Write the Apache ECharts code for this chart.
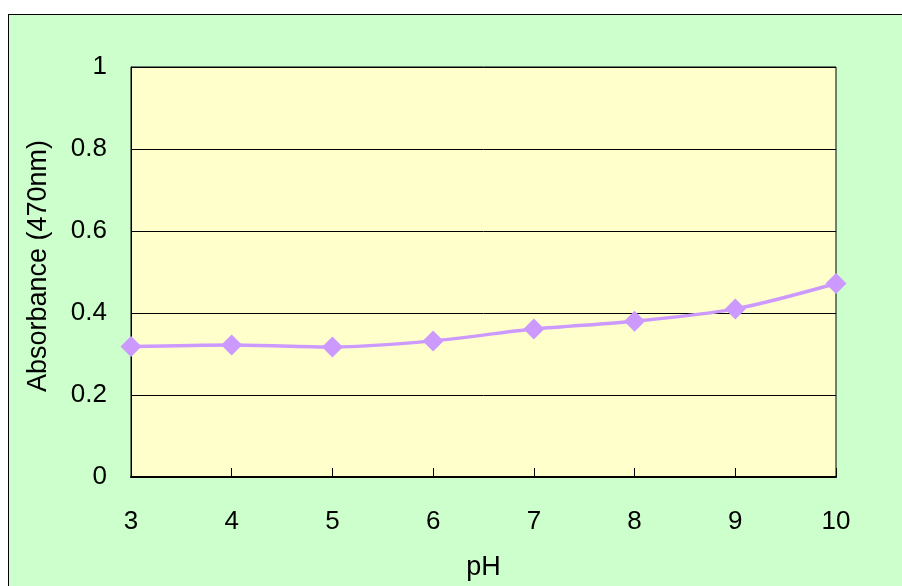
<!DOCTYPE html>
<html>
<head>
<meta charset="utf-8">
<script src="https://cdn.jsdelivr.net/npm/echarts@6/dist/echarts.min.js"></script>
<style>
  html, body { margin: 0; padding: 0; background: #ffffff; width: 902px; height: 586px; overflow: hidden; }
  #frame { position: absolute; left: 8px; top: 14px; width: 900px; height: 580px; border: 1px solid #000; background: #CCFFCC; }
  #chart { position: absolute; left: 0; top: 0; width: 902px; height: 586px; }
</style>
</head>
<body>
<div id="frame"></div>
<div id="chart"></div>
<script>
const phValues = [3, 4, 5, 6, 7, 8, 9, 10];
const absorbance = [0.318, 0.322, 0.317, 0.332, 0.361, 0.380, 0.410, 0.472];
const xAxisName = 'pH';
const yAxisName = 'Absorbance (470nm)';

const chart = echarts.init(document.getElementById('chart'), null, { renderer: 'canvas' });
const font = 'Liberation Sans, Arial, sans-serif';
chart.setOption({
  backgroundColor: 'transparent',
  animation: false,
  grid: {
    left: 131, top: 67, width: 705, height: 410,
    show: true, backgroundColor: '#FFFFCC', borderColor: '#000', borderWidth: 1
  },
  xAxis: {
    type: 'value', min: 3, max: 10, interval: 1,
    name: xAxisName, nameLocation: 'middle', nameGap: 77,
    nameTextStyle: { color: '#000', fontSize: 27, fontFamily: font },
    axisLine: { show: true, lineStyle: { color: '#000', width: 2 } },
    axisTick: { show: true, inside: true, length: 9, lineStyle: { color: '#000', width: 1 } },
    axisLabel: { color: '#000', fontSize: 26, fontFamily: font, margin: 32 },
    splitLine: { show: false }
  },
  yAxis: {
    type: 'value', min: 0, max: 1, interval: 0.2,
    name: yAxisName, nameLocation: 'middle', nameGap: 79, nameRotate: 90,
    nameTextStyle: { color: '#000', fontSize: 27, fontFamily: font, padding: [0, 0, 0, 12] },
    axisLine: { show: true, lineStyle: { color: '#000', width: 1 } },
    axisTick: { show: true, inside: true, length: 9, lineStyle: { color: '#000', width: 1 } },
    axisLabel: { color: '#000', fontSize: 26, fontFamily: font, margin: 24 },
    splitLine: { show: true, lineStyle: { color: '#000', width: 1 } }
  },
  series: [{
    type: 'line',
    data: phValues.map((p, i) => [p, absorbance[i]]),
    smooth: 0.3,
    symbol: 'diamond',
    symbolSize: 21,
    itemStyle: { color: '#CC99FF' },
    lineStyle: { color: '#CC99FF', width: 3.5 }
  }]
});
</script>
</body>
</html>
